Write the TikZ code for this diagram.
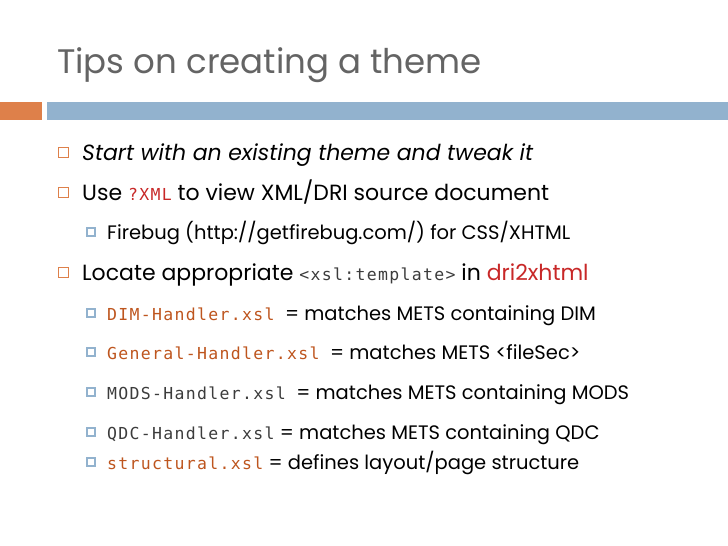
\documentclass[tikz,border=0pt]{standalone}
\usepackage{fontspec}
\setmainfont{Poppins}[Ligatures=NoCommon]
\newfontfamily\codefont{DejaVu Sans Mono}
\definecolor{titlegray}{RGB}{100,100,100}
\definecolor{barorange}{RGB}{222,128,74}
\definecolor{barblue}{RGB}{146,178,206}
\definecolor{codered}{RGB}{200,40,40}
\definecolor{codebrown}{RGB}{190,85,30}
\definecolor{codegray}{RGB}{60,60,60}
\tikzset{
  lone/.style={anchor=base west,font=\fontsize{22}{26}\selectfont,inner sep=0pt},
  ltwo/.style={anchor=base west,font=\fontsize{19.5}{22}\selectfont,inner sep=0pt},
  boxone/.style={draw=barorange,line width=1pt,minimum size=10pt,inner sep=0pt},
  boxtwo/.style={draw=barblue,line width=2.2pt,minimum size=8pt,inner sep=0pt}
}
\newcommand{\code}[2]{{\color{#1}\codefont\addfontfeature{LetterSpace=8}\fontsize{16.5}{18}\selectfont #2}}
\begin{document}
\begin{tikzpicture}[x=1pt,y=-1pt]
  \useasboundingbox (0,0) rectangle (728,546);
  \fill[white] (0,0) rectangle (728,546);
  \node[anchor=base west,inner sep=0pt,text=titlegray,font=\fontsize{34}{38}\selectfont] (title) at (57,73) {Tips on creating a theme};
  \fill[barorange] (0,102) rectangle (42,120);
  \fill[barblue] (47,102) rectangle (728,120);
  % first level
  \node[boxone] (b1) at (63,152) {};
  \node[lone] (t1) at (82,160) {\itshape Start with an existing theme and tweak it};
  \node[boxone] (b2) at (63,192) {};
  \node[lone] (t2) at (82,200) {Use \code{codered}{?XML}\ to view XML/DRI source document};
  \node[boxtwo] (b3) at (91,232) {};
  \node[ltwo] (t3) at (107,239) {Firebug (http://getfirebug.com/) for CSS/XHTML};
  \node[boxone] (b4) at (63,272) {};
  \node[lone] (t4) at (82,280) {Locate appropriate \code{codegray}{<xsl:template>} in {\color{codered}dri2xhtml}};
  % second level
  \node[boxtwo] (b5) at (91,313) {};
  \node[ltwo] (t5) at (107,320) {\code{codebrown}{DIM-Handler.xsl}\ \ = matches METS containing DIM};
  \node[boxtwo] (b6) at (91,352) {};
  \node[ltwo] (t6) at (107,359) {\code{codebrown}{General-Handler.xsl}\ \ = matches METS <fileSec>};
  \node[boxtwo] (b7) at (91,392) {};
  \node[ltwo] (t7) at (107,399) {\code{codegray}{MODS-Handler.xsl}\ \ = matches METS containing MODS};
  \node[boxtwo] (b8) at (91,432) {};
  \node[ltwo] (t8) at (107,439) {\code{codegray}{QDC-Handler.xsl}\ = matches METS containing QDC};
  \node[boxtwo] (b9) at (91,462) {};
  \node[ltwo] (t9) at (107,469) {\code{codebrown}{structural.xsl}\ = defines layout/page structure};
\end{tikzpicture}
\end{document}
